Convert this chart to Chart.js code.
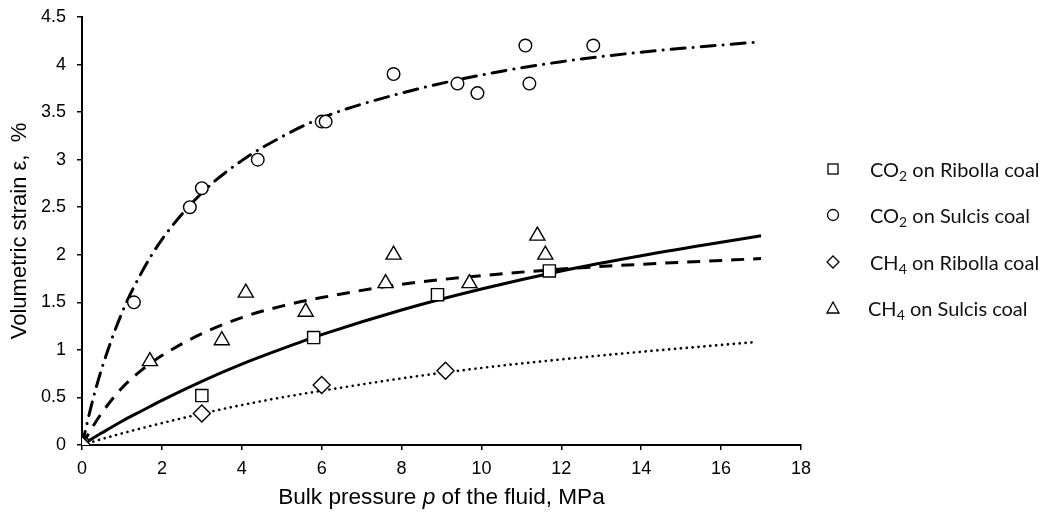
<!DOCTYPE html>
<html>
<head>
<meta charset="utf-8">
<script src="https://cdn.jsdelivr.net/npm/chart.js@4"></script>
<style>
  html, body { margin:0; padding:0; background:#fff; }
  #wrap { position:relative; width:1044px; height:515px; }
  canvas { position:absolute; left:0; top:0; }
  #legend { position:absolute; left:822px; top:0; font-family:"Lato","Open Sans",sans-serif; font-size:20px; color:#111; }
  .item { position:absolute; left:0; white-space:nowrap; height:24px; line-height:24px; }
  .item svg { position:absolute; left:0; top:3px; }
  .item span { position:absolute; left:48px; top:0; }
  sub { font-size:0.7em; vertical-align:-0.3em; line-height:0; }
  #xtitle { position:absolute; left:82px; width:719px; top:484px; text-align:center; font-family:"Liberation Sans", Arial, sans-serif; font-size:22.6px; line-height:26px; color:#000; white-space:nowrap; }
</style>
</head>
<body>
<div id="wrap">
  <canvas id="c" width="1044" height="515"></canvas>
  <div id="xtitle">Bulk pressure <i>p</i> of the fluid, MPa</div>
  <div id="legend">
    <div class="item" style="top:157px"><svg width="22" height="18"><rect x="6" y="4" width="10" height="10" fill="#fff" stroke="#000" stroke-width="1.3"/></svg><span>CO<sub>2</sub> on Ribolla coal</span></div>
    <div class="item" style="top:203px"><svg width="22" height="18"><circle cx="11" cy="9" r="5.5" fill="#fff" stroke="#000" stroke-width="1.3"/></svg><span>CO<sub>2</sub> on Sulcis coal</span></div>
    <div class="item" style="top:250px"><svg width="22" height="18"><polygon points="11,3 17,9 11,15 5,9" fill="#fff" stroke="#000" stroke-width="1.3"/></svg><span>CH<sub>4</sub> on Ribolla coal</span></div>
    <div class="item" style="top:296px"><svg width="22" height="18"><polygon points="11,3 17,14 5,14" fill="#fff" stroke="#000" stroke-width="1.3"/></svg><span style="left:46px">CH<sub>4</sub> on Sulcis coal</span></div>
  </div>
</div>
<script>
// ---- Data ----
const xTicks = [0, 2, 4, 6, 8, 10, 12, 14, 16, 18];
const yTicks = [0, 0.5, 1, 1.5, 2, 2.5, 3, 3.5, 4, 4.5];

// measured points
const co2RibollaP = [0, 3.0, 5.8, 8.9, 11.7];
const co2RibollaE = [0, 0.52, 1.13, 1.58, 1.83];

const co2SulcisP = [0, 1.3, 2.7, 3.0, 4.4, 6.0, 6.1, 7.8, 9.4, 9.9, 11.1, 11.2, 12.8];
const co2SulcisE = [0, 1.50, 2.50, 2.70, 3.00, 3.40, 3.40, 3.90, 3.80, 3.70, 4.20, 3.80, 4.20];

const ch4RibollaP = [0, 3.0, 6.0, 9.1];
const ch4RibollaE = [0, 0.33, 0.63, 0.78];

const ch4SulcisP = [0, 1.7, 3.5, 4.1, 5.6, 7.6, 7.8, 9.7, 11.4, 11.6];
const ch4SulcisE = [0, 0.88, 1.10, 1.60, 1.40, 1.70, 2.00, 1.70, 2.20, 2.00];

// fitted curves
const fitP = [0, 0.25, 0.5, 1, 1.5, 2, 3, 4, 5, 6, 8, 10, 12, 14, 17];
const fitCO2Sulcis = [0, 0.44, 0.81, 1.39, 1.82, 2.16, 2.65, 2.99, 3.24, 3.44, 3.70, 3.89, 4.03, 4.13, 4.24];
const fitCH4Sulcis = [0, 0.18, 0.34, 0.60, 0.79, 0.94, 1.17, 1.34, 1.46, 1.55, 1.69, 1.78, 1.85, 1.90, 1.96];
const fitCO2Ribolla = [0, 0.065, 0.128, 0.25, 0.36, 0.47, 0.67, 0.85, 1.01, 1.16, 1.42, 1.64, 1.83, 1.99, 2.20];
const fitCH4RibollaP = [0, 0.25, 0.5, 1, 1.5, 2, 3, 4, 5, 6, 8, 10, 12, 14, 16.8];
const fitCH4Ribolla = [0, 0.032, 0.063, 0.122, 0.177, 0.23, 0.33, 0.42, 0.50, 0.57, 0.70, 0.81, 0.90, 0.98, 1.08];

const pts = (xs, ys) => xs.map((x, i) => ({x, y: ys[i]}));

const lineDs = (xs, ys, dash, width, cap) => ({
  type: 'line', data: pts(xs, ys), borderColor: '#000', borderWidth: width,
  borderDash: dash, borderCapStyle: cap || 'butt', pointRadius: 0, fill: false,
  cubicInterpolationMode: 'monotone', order: 2
});
const markDs = (xs, ys, style, r) => ({
  type: 'scatter', data: pts(xs, ys), pointStyle: style, pointRadius: r, pointHoverRadius: r,
  pointBackgroundColor: '#fff', pointBorderColor: '#000', pointBorderWidth: 1.4, showLine: false, order: 1
});

const fontTick = { family: '"Liberation Sans", Arial, sans-serif', size: 18 };
const fontTitle = { family: '"Liberation Sans", Arial, sans-serif', size: 22 };

new Chart(document.getElementById('c'), {
  type: 'scatter',
  data: {
    datasets: [
      lineDs(fitP, fitCO2Sulcis, [14, 8, 0.1, 8], 3, 'round'),
      lineDs(fitP, fitCH4Sulcis, [13, 9], 3),
      lineDs(fitP, fitCO2Ribolla, [], 3),
      lineDs(fitCH4RibollaP, fitCH4Ribolla, [0.1, 5.8], 2.6, 'round'),
      markDs(ch4RibollaP, ch4RibollaE, 'rectRot', 8.5),
      markDs(ch4SulcisP, ch4SulcisE, 'triangle', 8.7),
      markDs(co2RibollaP, co2RibollaE, 'rect', 8.6),
      markDs(co2SulcisP, co2SulcisE, 'circle', 6.3)
    ]
  },
  options: {
    responsive: false, animation: false, devicePixelRatio: 1,
    layout: { padding: { left: 0, right: 243, top: 17, bottom: 0 } },
    plugins: { legend: { display: false }, tooltip: { enabled: false } },
    scales: {
      x: {
        type: 'linear', min: 0, max: 18,
        afterBuildTicks: s => { s.ticks = xTicks.map(v => ({value: v})); },
        afterFit: s => { s.height = 70; s.paddingLeft = 0; s.paddingRight = 0; },
        grid: { drawOnChartArea: false, drawTicks: true, tickLength: 5, color: '#000', lineWidth: 1.5 },
        border: { color: '#000', width: 2 },
        ticks: { color: '#000', font: fontTick, padding: 8, maxRotation: 0, callback: v => String(v) },
        title: { display: false }
      },
      y: {
        type: 'linear', min: 0, max: 4.5,
        afterBuildTicks: s => { s.ticks = yTicks.map(v => ({value: v})); },
        afterFit: s => { s.width = 82; s.paddingTop = 0; s.paddingBottom = 0; },
        grid: { drawOnChartArea: false, drawTicks: true, tickLength: 5, color: '#000', lineWidth: 1.5 },
        border: { color: '#000', width: 2 },
        ticks: { color: '#000', font: fontTick, padding: 11, callback: v => String(v) },
        title: { display: true, text: 'Volumetric strain ε,  %', color: '#000', font: fontTitle, padding: { top: 7, bottom: 0 } }
      }
    }
  }
});
</script>
</body>
</html>
